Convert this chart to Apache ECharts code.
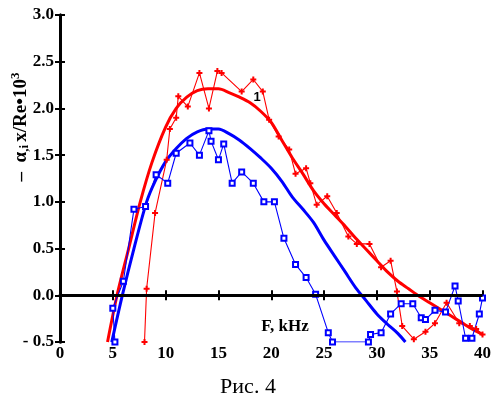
<!DOCTYPE html>
<html><head><meta charset="utf-8">
<script src="https://cdn.jsdelivr.net/npm/echarts@6/dist/echarts.min.js"></script>
<style>html,body{margin:0;padding:0;background:#fff}#c{width:494px;height:401px}</style>
</head><body><div id="c"></div>
<script>
const xTicks = [0, 5, 10, 15, 20, 25, 30, 35, 40];
const yTicks = [-0.5, 0, 0.5, 1.0, 1.5, 2.0, 2.5, 3.0];
// red smooth (theory) curve 1
const redFit = [[4.5,-0.5],[5.4,0],[6.5,0.5],[7.6,1.0],[8.7,1.42],[10,1.8],[11,2.0],[12,2.12],[13,2.19],[14,2.21],[15,2.21],[16,2.17],[17,2.12],[18,2.06],[19,1.97],[20,1.85],[21,1.66],[22,1.47],[23,1.3],[24,1.12],[25,0.98],[26,0.86],[27,0.74],[28,0.61],[29,0.49],[30,0.37],[31,0.25],[32,0.15],[33,0.07],[34,-0.01],[35,-0.08],[36,-0.15],[37,-0.22],[38,-0.29],[39,-0.36],[40,-0.42]];
// red measured points (+)
const redExp = [[8.0,-0.5],[8.2,0.07],[9.0,0.88],[10.1,1.45],[10.4,1.78],[11.0,1.9],[11.2,2.13],[12.1,2.02],[13.2,2.38],[14.1,2.0],[14.9,2.4],[15.3,2.38],[17.2,2.18],[18.3,2.31],[19.2,2.18],[19.8,1.88],[20.7,1.7],[21.7,1.56],[22.3,1.3],[23.3,1.36],[23.7,1.2],[24.3,0.97],[25.3,1.06],[26.2,0.88],[27.3,0.63],[28.1,0.55],[29.3,0.55],[30.4,0.3],[31.3,0.37],[31.9,0.04],[32.4,-0.33],[33.5,-0.47],[34.6,-0.39],[35.5,-0.3],[36.6,-0.08],[37.8,-0.3],[38.8,-0.33],[39.4,-0.36],[40,-0.42]];
// blue smooth curve
const blueFit = [[4.9,-0.5],[5.9,0],[7.0,0.5],[8.2,1.0],[9,1.22],[10,1.43],[11,1.57],[12,1.68],[13,1.75],[14,1.78],[15,1.78],[16,1.73],[17,1.66],[18,1.57],[19,1.47],[20,1.36],[21,1.22],[22,1.05],[23,0.92],[24,0.78],[25,0.59],[26,0.42],[27,0.25],[28,0.08],[29,-0.06],[30,-0.2],[31,-0.31],[32,-0.41],[32.7,-0.5]];
// blue measured points (open squares)
const blueExp = [[5.2,-0.5],[5.0,-0.14],[6.0,0.15],[7.0,0.92],[8.1,0.95],[9.1,1.29],[10.2,1.2],[11.0,1.52],[12.3,1.63],[13.2,1.5],[14.1,1.76],[14.3,1.65],[15.0,1.45],[15.5,1.62],[16.3,1.2],[17.2,1.32],[18.3,1.2],[19.3,1.0],[20.3,1.0],[21.2,0.61],[22.3,0.33],[23.3,0.19],[24.2,0.01],[25.4,-0.4],[25.8,-0.5],[29.2,-0.5],[29.4,-0.42],[30.4,-0.4],[31.3,-0.2],[32.3,-0.09],[33.4,-0.09],[34.2,-0.24],[34.6,-0.26],[35.5,-0.16],[36.5,-0.18],[37.4,0.1],[37.7,-0.06],[38.4,-0.46],[39.0,-0.46],[39.7,-0.2],[40,-0.03]];

const RED = '#ff0000', BLUE = '#0000ff';
const serif = '"Liberation Serif","Times New Roman",serif';
const plus = 'path://M2,0H4V2H6V4H4V6H2V4H0V2H2Z';
const chart = echarts.init(document.getElementById('c'));
const axLine = {lineStyle:{color:'#000', width:3}};
const axTick = {inside:true, length:5, lineStyle:{color:'#000', width:2}};
chart.setOption({
  animation:false,
  backgroundColor:'#fff',
  grid:{left:60, right:4, top:15, bottom:59},
  xAxis:[
    {type:'value', min:xTicks[0], max:xTicks[xTicks.length-1], interval:5, position:'bottom',
     axisLine:axLine, axisTick:axTick, splitLine:{show:false},
     axisLabel:{color:'#000', fontFamily:serif, fontWeight:'bold', fontSize:17, margin:3}},
    {type:'value', min:0, max:40, interval:5, position:'top',
     axisLine:axLine, axisTick:axTick, splitLine:{show:false}, axisLabel:{show:false}}
  ],
  yAxis:[
    {type:'value', min:yTicks[0], max:yTicks[yTicks.length-1], interval:0.5, position:'left',
     axisLine:axLine, axisTick:axTick, splitLine:{show:false},
     axisLabel:{color:'#000', fontFamily:serif, fontWeight:'bold', fontSize:17, margin:6,
       formatter:v => v < 0 ? '- ' + Math.abs(v).toFixed(1) : v.toFixed(1)}},
    {type:'value', min:-0.5, max:3.0, interval:0.5, position:'right',
     axisLine:axLine, axisTick:axTick, splitLine:{show:false}, axisLabel:{show:false}}
  ],
  series:[
    {type:'line', data:redFit, showSymbol:false, smooth:0.3, lineStyle:{color:RED, width:3}, z:3,
     markLine:{silent:true, symbol:'none', label:{show:false},
       lineStyle:{color:'#000', width:3, type:'solid'}, data:[{yAxis:0}]}},
    {type:'line', data:redExp, symbol:plus, symbolSize:6, showAllSymbol:true, lineStyle:{color:RED, width:1.1},
     itemStyle:{color:RED}, z:4},
    {type:'line', data:blueFit, showSymbol:false, smooth:0.3, lineStyle:{color:BLUE, width:3}, z:3},
    {type:'line', data:blueExp, symbol:'emptyRect', symbolSize:5, showAllSymbol:true, lineStyle:{color:BLUE, width:1.1},
     itemStyle:{color:BLUE, borderWidth:1.2}, z:4}
  ],
  graphic:[
    {type:'text', x:21, y:127, rotation:Math.PI/2,
     style:{text:'{n|–  α}{s|,i }{n|x/Re•10}{p|3}', align:'center', verticalAlign:'middle',
       rich:{n:{fontFamily:serif, fontWeight:'bold', fontSize:19, fill:'#000'},
             s:{fontFamily:serif, fontWeight:'bold', fontSize:13, fill:'#000', padding:[7,0,0,0]},
             p:{fontFamily:serif, fontWeight:'bold', fontSize:13, fill:'#000', padding:[0,0,10,0]}}}},
    {type:'text', x:285, y:327, style:{text:'F, kHz', fontFamily:serif, fontWeight:'bold', fontSize:17,
       fill:'#000', align:'center', verticalAlign:'middle'}},
    {type:'text', x:257, y:97, style:{text:'1', fontFamily:'"Liberation Sans",Arial,sans-serif', fontWeight:'bold', fontSize:13,
       fill:'#000', align:'center', verticalAlign:'middle'}},
    {type:'text', x:248, y:387, style:{text:'Рис. 4', fontFamily:serif, fontSize:22,
       fill:'#000', align:'center', verticalAlign:'middle'}}
  ]
});
</script></body></html>
